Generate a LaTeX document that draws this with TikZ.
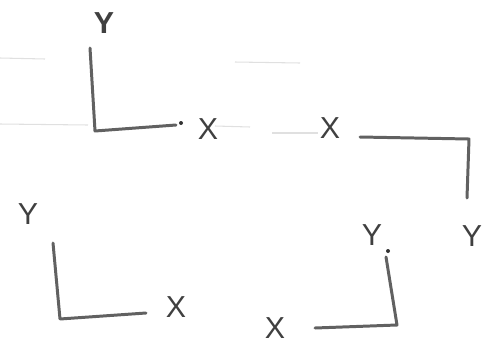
\documentclass[tikz,border=0pt]{standalone}
\usepackage{fontspec}
\setmainfont{Liberation Sans}
\tikzset{
  axis/.style={line width=1.7pt, black!62, line cap=round, line join=round},
  lbl/.style={font=\LARGE, text=black!75, inner sep=0pt},
  rule/.style={black!12, line width=0.6pt}
}
\begin{document}
\begin{tikzpicture}[x=0.02cm, y=-0.02cm]
    \useasboundingbox (0,0) rectangle (490,359);
    % faint ruled lines of the paper
    \draw[rule] (0,58) -- (45,59);
    \draw[rule] (235,62) -- (300,63);
    \draw[rule] (0,124) -- (88,125);
    \draw[rule] (215,126) -- (250,127);
    \draw[rule] (272,133) -- (318,133);
    % top left: y up, x right
    \coordinate (tlY) at (90,48);
    \coordinate (tlO) at (95,131);
    \coordinate (tlX) at (176,125);
    \draw[axis] (tlY) -- (tlO) -- (tlX);
    \fill[black!80] (181,123) circle (2);
    \node[lbl] (tlYlbl) at (104,23) {\textbf{Y}};
    \node[lbl] (tlXlbl) at (208,129) {X};
    % top right: x left, y down
    \coordinate (trX) at (360,137);
    \coordinate (trO) at (469,139);
    \coordinate (trY) at (467,198);
    \draw[axis] (trX) -- (trO) -- (trY);
    \node[lbl] (trXlbl) at (330,128) {X};
    \node[lbl] (trYlbl) at (472,236) {Y};
    \node[lbl] (trYlbl2) at (372,235) {Y};
    % bottom left: y up, x right
    \coordinate (blY) at (53,243);
    \coordinate (blO) at (60,319);
    \coordinate (blX) at (146,313);
    \draw[axis] (blY) -- (blO) -- (blX);
    \node[lbl] (blYlbl) at (28,214) {Y};
    \node[lbl] (blXlbl) at (176,307) {X};
    % bottom right: x left, y up
    \coordinate (brX) at (315,328);
    \coordinate (brO) at (397,325);
    \coordinate (brY) at (386,257);
    \draw[axis] (brX) -- (brO) -- (brY);
    \fill[black!80] (388,251) circle (2);
    \node[lbl] (brXlbl) at (275,328) {X};
\end{tikzpicture}
\end{document}
